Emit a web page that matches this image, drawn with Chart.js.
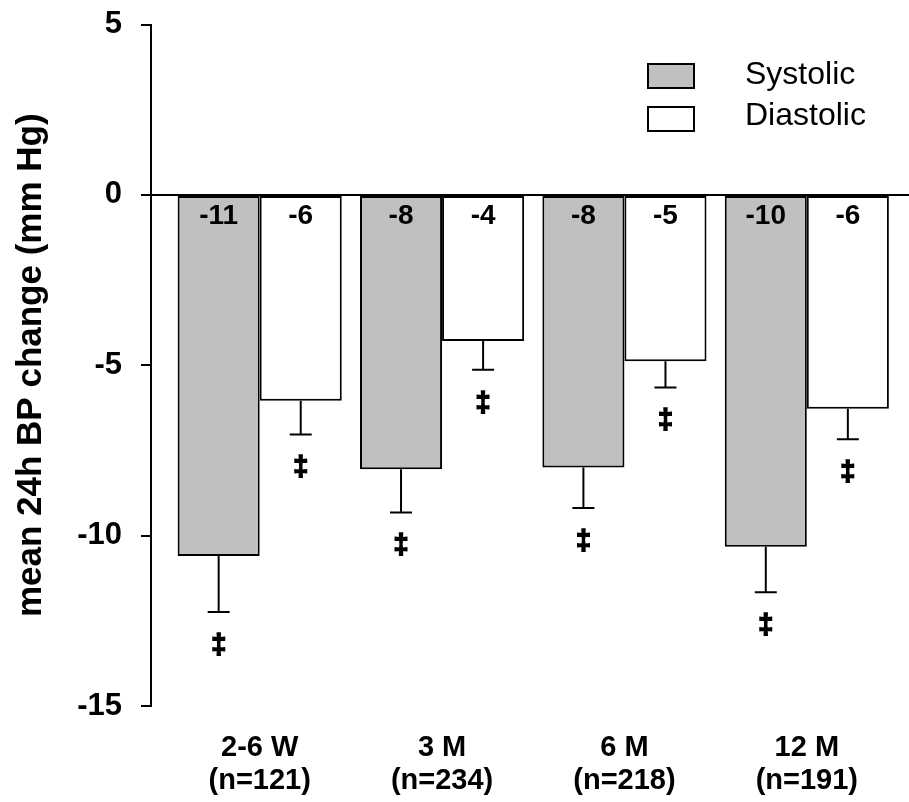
<!DOCTYPE html>
<html>
<head>
<meta charset="utf-8">
<script src="https://cdn.jsdelivr.net/npm/chart.js@4.4.1/dist/chart.umd.min.js"></script>
<style>
  html, body { margin: 0; padding: 0; background: #fff; }
  canvas { display: block; }
</style>
</head>
<body>
<canvas id="bp-chart" width="909" height="802"></canvas>
<script>
// periods after the procedure, two lines per label
var periods = [["2-6 W", "(n=121)"], ["3 M", "(n=234)"], ["6 M", "(n=218)"], ["12 M", "(n=191)"]];
var systolic = [-10.6, -8.05, -8.0, -10.33];
var systolicErr = [1.64, 1.27, 1.19, 1.33];
var diastolic = [-6.04, -4.29, -4.88, -6.28];
var diastolicErr = [0.99, 0.84, 0.77, 0.89];
var yTicks = [5, 0, -5, -10, -15];

var FONT = "'Liberation Sans', Arial, sans-serif";

// error bars (downwards only), dagger marks and rounded value in the bar top
var barExtras = {
    id: 'barExtras',
    afterDatasetsDraw: function(chart) {
        var ctx = chart.ctx;
        var y = chart.scales.y;
        var zero = y.getPixelForValue(0);
        var errs = [systolicErr, diastolicErr];
        ctx.save();
        chart.data.datasets.forEach(function(ds, di) {
            var meta = chart.getDatasetMeta(di);
            meta.data.forEach(function(bar, i) {
                var v = ds.data[i];
                var lo = y.getPixelForValue(v - errs[di][i]);
                ctx.strokeStyle = '#000';
                ctx.lineWidth = 2;
                ctx.beginPath();
                ctx.moveTo(bar.x, bar.y);
                ctx.lineTo(bar.x, lo);
                ctx.moveTo(bar.x - 11, lo);
                ctx.lineTo(bar.x + 11, lo);
                ctx.stroke();

                // thickened double dagger
                ctx.fillStyle = '#000';
                ctx.textAlign = 'center';
                ctx.textBaseline = 'alphabetic';
                ctx.font = 'bold 27px ' + FONT;
                ctx.lineWidth = 1.6;
                ctx.fillText('\u2021', bar.x, lo + 41);
                ctx.strokeText('\u2021', bar.x, lo + 41);

                ctx.textBaseline = 'middle';
                ctx.font = 'bold 28px ' + FONT;
                ctx.fillText(String(Math.round(v)), bar.x, zero + 21);
            });
        });
        ctx.restore();
    }
};

// stacked legend in the upper right
var boxLegend = {
    id: 'boxLegend',
    afterDraw: function(chart) {
        var ctx = chart.ctx;
        ctx.save();
        chart.data.datasets.forEach(function(ds, i) {
            var top = 64 + i * 43;
            ctx.fillStyle = ds.backgroundColor;
            ctx.fillRect(648, top, 46, 24);
            ctx.strokeStyle = '#000';
            ctx.lineWidth = 2;
            ctx.strokeRect(648, top, 46, 24);
            ctx.fillStyle = '#000';
            ctx.font = '32px ' + FONT;
            ctx.textAlign = 'left';
            ctx.textBaseline = 'middle';
            ctx.fillText(ds.label, 745, top + 11 - i * 2);
        });
        ctx.restore();
    }
};

// the categories start a little to the right of the y axis line
var shiftX = {
    id: 'shiftX',
    afterLayout: function(chart) {
        var x = chart.scales.x;
        var a = chart.chartArea;
        x.left = a.left + 17.5;
        x.right = a.right - 11;
        x.width = x.right - x.left;
        x.configure();
    }
};

new Chart(document.getElementById('bp-chart'), {
    type: 'bar',
    data: {
        labels: periods,
        datasets: [{
            label: 'Systolic',
            data: systolic,
            backgroundColor: '#c0c0c0',
            borderColor: '#000',
            borderWidth: 2,
            borderSkipped: false
        }, {
            label: 'Diastolic',
            data: diastolic,
            backgroundColor: '#ffffff',
            borderColor: '#000',
            borderWidth: 2,
            borderSkipped: false
        }]
    },
    options: {
        responsive: false,
        animation: false,
        devicePixelRatio: 1,
        layout: { padding: { top: 24.5, right: 0, bottom: 0, left: 0 } },
        datasets: { bar: { categoryPercentage: 0.9, barPercentage: 1.0 } },
        plugins: {
            legend: { display: false },
            tooltip: { enabled: false }
        },
        scales: {
            x: {
                grid: { display: false },
                border: { display: false },
                ticks: {
                    color: '#000',
                    padding: 17,
                    maxRotation: 0,
                    font: { family: FONT, size: 29, weight: 'bold', lineHeight: 1.14 }
                },
                afterFit: function(s) {
                    s.height = 96;
                    s.paddingLeft = 0;
                    s.paddingRight = 0;
                }
            },
            y: {
                min: -15,
                max: 5,
                afterBuildTicks: function(s) {
                    s.ticks = yTicks.map(function(v) { return { value: v }; });
                },
                border: { display: true, color: '#000', width: 2 },
                grid: {
                    drawTicks: true,
                    tickLength: 10,
                    tickColor: '#000',
                    tickWidth: 2,
                    color: function(c) { return c.tick && c.tick.value === 0 ? '#000' : 'rgba(0,0,0,0)'; },
                    lineWidth: 2
                },
                ticks: {
                    color: '#000',
                    padding: 19,
                    font: { family: FONT, size: 31, weight: 'bold' }
                },
                title: {
                    display: true,
                    text: 'mean 24h BP change (mm Hg)',
                    color: '#000',
                    padding: { top: 10, bottom: 0 },
                    font: { family: FONT, size: 35, weight: 'bold' }
                },
                afterFit: function(s) {
                    s.width = 151;
                    s.paddingTop = 0;
                    s.paddingBottom = 0;
                }
            }
        }
    },
    plugins: [shiftX, barExtras, boxLegend]
});
</script>
</body>
</html>
